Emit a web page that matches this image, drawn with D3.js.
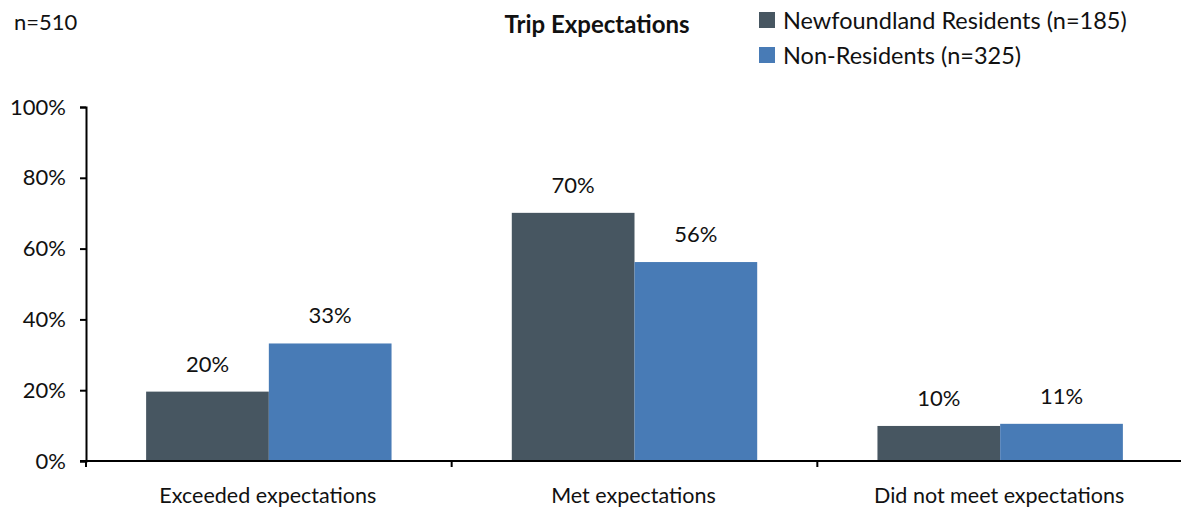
<!DOCTYPE html>
<html><head><meta charset="utf-8">
<script src="https://cdn.jsdelivr.net/npm/d3@7"></script>
<style>
html,body{margin:0;padding:0;background:#fff;}
svg{display:block;font-family:"Lato","Open Sans",sans-serif;}
</style></head>
<body>
<svg id="chart" width="1181" height="510"></svg>
<script>
const categories = ["Exceeded expectations", "Met expectations", "Did not meet expectations"];
const seriesNames = ["Newfoundland Residents (n=185)", "Non-Residents (n=325)"];
const residents = [19.6, 70.1, 9.9];
const nonResidents = [33.2, 56.2, 10.5];
const valueLabels = [["20%", "70%", "10%"], ["33%", "56%", "11%"]];
const yTicks = [0, 20, 40, 60, 80, 100];
const colors = ["#475661", "#487bb6"];

(function () {
const svg = d3.select("#chart");
const mLeft = 86, mRight = 1183, mTop = 107, mBottom = 461;
const ff = "Lato, 'Open Sans', sans-serif";

const y = d3.scaleLinear().domain([0, 100]).range([mBottom, mTop]);
const x0 = d3.scaleBand().domain(categories).range([mLeft, mRight]).padding(0);
const x1 = d3.scaleBand().domain([0, 1]).range([0, x0.bandwidth()]).paddingInner(0).paddingOuter(0.49);

const seriesVals = [residents, nonResidents];

seriesVals.forEach((vals, si) => {
  svg.append("g").selectAll("rect").data(categories).join("rect")
    .attr("x", (c) => x0(c) + x1(si))
    .attr("width", x1.bandwidth())
    .attr("y", (c, i) => y(vals[i]))
    .attr("height", (c, i) => y(0) - y(vals[i]))
    .attr("fill", colors[si]);
  svg.append("g").selectAll("text").data(categories).join("text")
    .attr("x", (c) => x0(c) + x1(si) + x1.bandwidth() / 2)
    .attr("y", (c, i) => y(vals[i]) - 20)
    .attr("text-anchor", "middle")
    .attr("font-size", 22)
    .attr("fill", "#111")
    .text((c, i) => valueLabels[si][i]);
});

const yAxis = svg.append("g").attr("transform", `translate(${mLeft},0)`)
  .call(d3.axisLeft(y).tickValues(yTicks).tickFormat(d => d + "%").tickSize(6).tickPadding(14));
yAxis.select(".domain").attr("stroke", "#000").attr("stroke-width", 2);
yAxis.selectAll(".tick line").attr("stroke", "#000").attr("stroke-width", 2);
yAxis.selectAll("text").attr("font-size", 22).attr("fill", "#111").attr("font-family", ff);

const xg = svg.append("g");
xg.append("line").attr("x1", mLeft - 6).attr("x2", mRight).attr("y1", mBottom).attr("y2", mBottom)
  .attr("stroke", "#000").attr("stroke-width", 2);
const bounds = categories.map(c => x0(c)).concat([x0(categories[categories.length - 1]) + x0.bandwidth()]);
xg.selectAll("line.t").data(bounds).join("line").attr("class", "t")
  .attr("x1", d => d).attr("x2", d => d).attr("y1", mBottom).attr("y2", mBottom + 6)
  .attr("stroke", "#000").attr("stroke-width", 2);
xg.selectAll("text").data(categories).join("text")
  .attr("x", c => x0(c) + x0.bandwidth() / 2 - 1)
  .attr("y", 503)
  .attr("text-anchor", "middle")
  .attr("font-size", 21.5)
  .attr("fill", "#111")
  .text(c => c);

svg.append("text").attr("x", 14).attr("y", 30).attr("font-size", 22).attr("fill", "#111").text("n=510");
svg.append("text").attr("x", 597).attr("y", 33).attr("text-anchor", "middle").attr("font-size", 24)
  .attr("font-weight", "bold").attr("fill", "#111").text("Trip Expectations");

const lg = svg.append("g");
seriesNames.forEach((s, i) => {
  lg.append("rect").attr("x", 759).attr("y", 12 + i * 35).attr("width", 16).attr("height", 16).attr("fill", colors[i]);
  lg.append("text").attr("x", 783).attr("y", 29 + i * 35).attr("font-size", 23.5).attr("fill", "#111").text(s);
});
})();
</script>
</body></html>
